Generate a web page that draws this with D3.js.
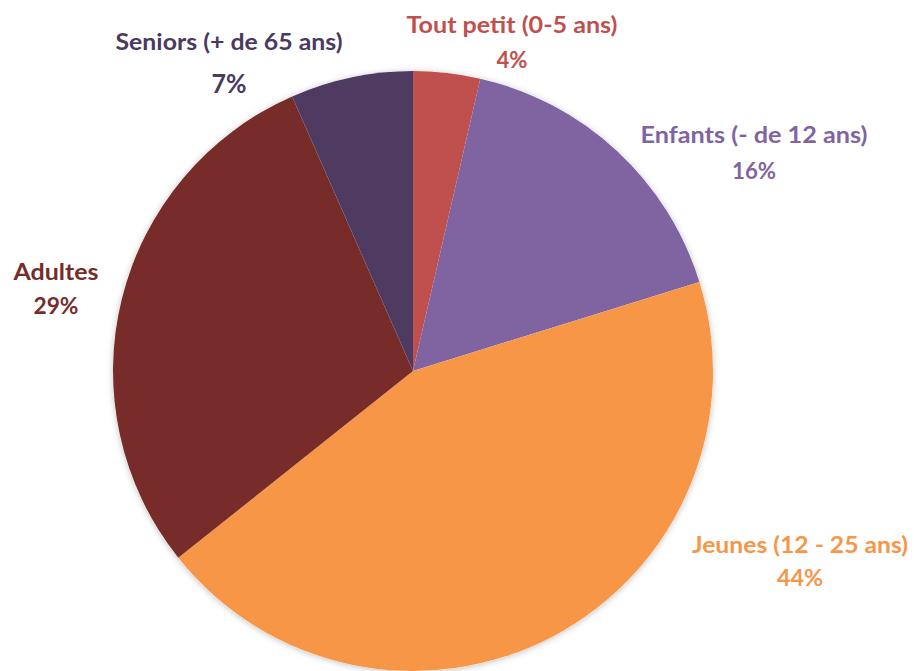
<!DOCTYPE html>
<html><head><meta charset="utf-8">
<script src="https://cdn.jsdelivr.net/npm/d3@7"></script>
<style>html,body{margin:0;padding:0;background:#fff;}svg{display:block;}</style>
</head><body>
<script>
const categories = ["Tout petit (0-5 ans)", "Enfants (- de 12 ans)", "Jeunes (12 - 25 ans)", "Adultes", "Seniors (+ de 65 ans)"];
const values = [3.6, 16.6, 44.1, 29.1, 6.6];
const pctLabels = ["4%", "16%", "44%", "29%", "7%"];
const colors = ["#C0504D", "#8064A2", "#F79646", "#772C2A", "#4F3B62"];
const labelColors = ["#C0504D", "#8064A2", "#F79646", "#772C2A", "#4A3A60"];

// label layout (x center, baseline 1, baseline 2, width1, width2, size2)
const layout = [
  {x: 512, y1: 33, y2: 68, w1: 211, w2: 31, fs2: 22},
  {x: 754, y1: 143, y2: 179, w1: 227, w2: 44, fs2: 22},
  {x: 800, y1: 553, y2: 586, w1: 216, w2: 46, fs2: 22},
  {x: 56, y1: 280, y2: 314, w1: 85, w2: 45, fs2: 22},
  {x: 229, y1: 50, y2: 93, w1: 227, w2: 35, fs2: 26}
];

const W = 914, H = 671, cx = 413, cy = 371, R = 300;
const svg = d3.select("body").append("svg").attr("width", W).attr("height", H);
const defs = svg.append("defs");
const f = defs.append("filter").attr("id", "sh").attr("x", "-10%").attr("y", "-10%").attr("width", "120%").attr("height", "120%");
f.append("feDropShadow").attr("dx", 0).attr("dy", 1).attr("stdDeviation", 3).attr("flood-color", "#000").attr("flood-opacity", 0.25);

const pie = d3.pie().sort(null).value(d => d)(values);
const arc = d3.arc().innerRadius(0).outerRadius(R);
const g = svg.append("g").attr("transform", `translate(${cx},${cy})`);
g.append("circle").attr("r", R).attr("fill", "#fff").attr("filter", "url(#sh)");
g.selectAll("path").data(pie).join("path")
  .attr("d", arc).attr("fill", (d, i) => colors[i]);

const lab = svg.append("g").attr("font-family", "Lato, 'Open Sans', sans-serif").attr("font-weight", "bold").attr("text-anchor", "middle");
categories.forEach((c, i) => {
  const L = layout[i];
  lab.append("text").attr("x", L.x).attr("y", L.y1).attr("font-size", 22).attr("fill", labelColors[i])
    .attr("textLength", L.w1).attr("lengthAdjust", "spacingAndGlyphs").text(c);
  lab.append("text").attr("x", L.x).attr("y", L.y2).attr("font-size", L.fs2).attr("fill", labelColors[i])
    .attr("textLength", L.w2).attr("lengthAdjust", "spacingAndGlyphs").text(pctLabels[i]);
});
</script>
</body></html>
